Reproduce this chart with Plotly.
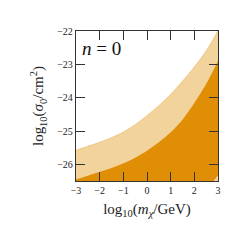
import plotly.graph_objects as go

# log10(m_chi/GeV)
mass = [-3, -2.5, -2, -1.5, -1, -0.5, 0, 0.5, 1, 1.5, 2, 2.5, 3]
# upper edge of light band (log10 sigma0/cm^2)
light_upper = [-25.58, -25.46, -25.34, -25.20, -25.03, -24.81, -24.54, -24.24, -23.90, -23.51, -23.08, -22.60, -22.0]
# upper edge of dark band
dark_upper = [-26.45, -26.34, -26.23, -26.11, -25.97, -25.80, -25.59, -25.34, -25.04, -24.66, -24.16, -23.59, -22.9]
# lower edge of dark band (enters view at bottom right)
dark_lower = [-31.7, -31.25, -30.8, -30.35, -29.9, -29.45, -29.0, -28.55, -28.1, -27.65, -27.2, -26.75, -26.33]
baseline = [-27.0] * len(mass)

xticks = [-3, -2, -1, 0, 1, 2, 3]
yticks = [-26, -25, -24, -23, -22]

light = "rgb(243,211,156)"
dark = "rgb(223,142,5)"
serif = "Liberation Serif, Times New Roman, serif"

fig = go.Figure()
fig.add_trace(go.Scatter(x=mass, y=baseline, mode="lines", line=dict(width=0), showlegend=False, hoverinfo="skip"))
fig.add_trace(go.Scatter(x=mass, y=light_upper, mode="lines", line=dict(width=0.8, color="rgb(236,190,115)", shape="spline", smoothing=0.8),
                         fill="tonexty", fillcolor=light, showlegend=False))
fig.add_trace(go.Scatter(x=mass, y=dark_lower, mode="lines", line=dict(width=0), showlegend=False, hoverinfo="skip"))
fig.add_trace(go.Scatter(x=mass, y=dark_upper, mode="lines", line=dict(width=0, shape="spline", smoothing=0.8),
                         fill="tonexty", fillcolor=dark, showlegend=False))

axcommon = dict(showline=True, mirror="ticks", ticks="inside", ticklen=9, tickwidth=1.3,
                tickcolor="#333", linecolor="#333", linewidth=1.3, showgrid=False, zeroline=False,
                tickfont=dict(family=serif, size=10, color="#222"))

fig.update_xaxes(range=[-3, 3], tickvals=xticks, ticktext=[("−" + str(-v)) if v < 0 else str(v) for v in xticks],
                 title=dict(text="log<sub>10</sub>(<i>m</i><sub><i>χ</i></sub>/GeV)", standoff=8,
                            font=dict(family=serif, size=15, color="#222")), **axcommon)
fig.update_yaxes(range=[-26.5, -22], tickvals=yticks, ticktext=["−" + str(-v) for v in yticks],
                 title=dict(text="log<sub>10</sub>(<i>σ</i><sub>0</sub>/cm<sup>2</sup>)", standoff=9,
                            font=dict(family=serif, size=15, color="#222")), **axcommon)

fig.add_annotation(x=0.03, y=0.97, xref="paper", yref="paper", xanchor="left", yanchor="top",
                   text="<i>n</i> = 0", showarrow=False,
                   font=dict(family=serif, size=19, color="#111"))

# page body keeps a default 8px margin, so the figure is drawn 8px smaller
fig.update_layout(width=241, height=241, margin=dict(l=68, r=31, t=23, b=68, autoexpand=False),
                  plot_bgcolor="white", paper_bgcolor="white")
fig.write_html("out.html")
